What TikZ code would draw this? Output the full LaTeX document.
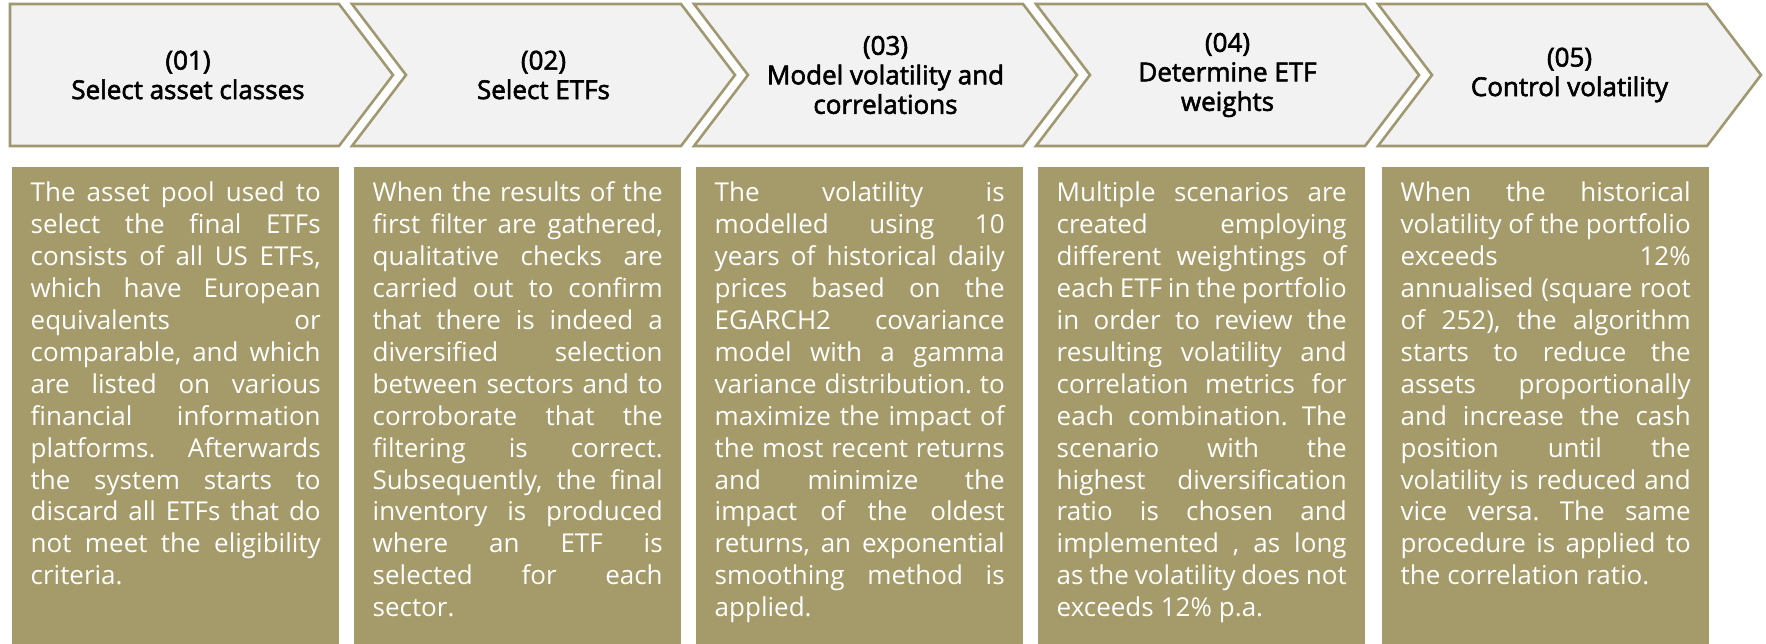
\documentclass[tikz,border=0pt]{standalone}
\usepackage{fontspec}
\setmainfont{Open Sans}
\newfontfamily\headfont[FakeBold=2.2]{Open Sans}
\definecolor{boxolive}{HTML}{A49A6A}
\definecolor{chevline}{HTML}{A09870}
\definecolor{chevfill}{HTML}{F2F2F2}
\newlength\tw \setlength\tw{290pt}
\newcommand\JL[1]{\hbox to \tw{#1}}
\newcommand\LL[1]{\hbox to \tw{#1\hfil}}
\newcommand\bodytext[1]{\vtop{\frenchspacing\fontsize{26}{31.9}\selectfont\spaceskip=0.27em plus 4em minus 0.1em\relax\baselineskip=31.9pt #1}}
\tikzset{
  chev/.style={draw=chevline, fill=chevfill, line width=2.6pt, line join=miter},
  panel/.style={fill=boxolive},
  head/.style={font=\headfont\fontsize{26}{29.5}\selectfont, text=black, align=center, inner sep=0pt},
  body/.style={text=white, inner sep=0pt, anchor=base west}
}
\begin{document}
\begin{tikzpicture}[x=1pt,y=-1pt]
\useasboundingbox (0,0) rectangle (1766,644);
% chevrons
\draw[chev] (10,4) -- (339,4) -- (393,75) -- (339,146) -- (10,146) -- cycle;
\draw[chev] (352,4) -- (681,4) -- (735,75) -- (681,146) -- (352,146) -- (406,75) -- cycle;
\draw[chev] (694,4) -- (1023,4) -- (1077,75) -- (1023,146) -- (694,146) -- (748,75) -- cycle;
\draw[chev] (1036,4) -- (1365,4) -- (1419,75) -- (1365,146) -- (1036,146) -- (1090,75) -- cycle;
\draw[chev] (1378,4) -- (1707,4) -- (1761,75) -- (1707,146) -- (1378,146) -- (1432,75) -- cycle;
% headings
\node[head] (h1) at (188,75) {(01)\\Select asset classes};
\node[head] (h2) at (543.5,75) {(02)\\Select ETFs};
\node[head] (h3) at (885.5,75) {(03)\\Model volatility and\\correlations};
\node[head] (h4) at (1227.5,75) {(04)\\Determine ETF\\weights};
\node[head] (h5) at (1569.5,75) {(05)\\Control volatility};
% panels
\fill[panel] (12,167) rectangle (339,644);
\fill[panel] (354,167) rectangle (681,644);
\fill[panel] (696,167) rectangle (1023,644);
\fill[panel] (1038,167) rectangle (1365,644);
\fill[panel] (1382,167) rectangle (1709,644);
% body texts
\node[body] (b1) at (30.5,202) {\bodytext{%
\JL{The asset pool used to}
\JL{select the final ETFs}
\JL{consists of all US ETFs,}
\JL{which have European}
\JL{equivalents or}
\JL{comparable, and which}
\JL{are listed on various}
\JL{financial information}
\JL{platforms. Afterwards}
\JL{the system starts to}
\JL{discard all ETFs that do}
\JL{not meet the eligibility}
\LL{criteria.}}};
\node[body] (b2) at (372.5,202) {\bodytext{%
\JL{When the results of the}
\JL{first filter are gathered,}
\JL{qualitative checks are}
\JL{carried out to confirm}
\JL{that there is indeed a}
\JL{diversified selection}
\JL{between sectors and to}
\JL{corroborate that the}
\JL{filtering is correct.}
\JL{Subsequently, the final}
\JL{inventory is produced}
\JL{where an ETF is}
\JL{selected for each}
\LL{sector.}}};
\node[body] (b3) at (714.5,202) {\bodytext{%
\JL{The volatility is}
\JL{modelled using 10}
\JL{years of historical daily}
\JL{prices based on the}
\JL{EGARCH2 covariance}
\JL{model with a gamma}
\JL{variance distribution. to}
\JL{maximize the impact of}
\JL{the most recent returns}
\JL{and minimize the}
\JL{impact of the oldest}
\JL{returns, an exponential}
\JL{smoothing method is}
\LL{applied.}}};
\node[body] (b4) at (1056.5,202) {\bodytext{%
\JL{Multiple scenarios are}
\JL{created employing}
\JL{different weightings of}
\JL{each ETF in the portfolio}
\JL{in order to review the}
\JL{resulting volatility and}
\JL{correlation metrics for}
\JL{each combination. The}
\JL{scenario with the}
\JL{highest diversification}
\JL{ratio is chosen and}
\JL{implemented , as long}
\JL{as the volatility does not}
\LL{exceeds 12\% p.a.}}};
\node[body] (b5) at (1400.5,202) {\bodytext{%
\JL{When the historical}
\JL{volatility of the portfolio}
\JL{exceeds 12\%}
\JL{annualised (square root}
\JL{of 252), the algorithm}
\JL{starts to reduce the}
\JL{assets proportionally}
\JL{and increase the cash}
\JL{position until the}
\JL{volatility is reduced and}
\JL{vice versa. The same}
\JL{procedure is applied to}
\LL{the correlation ratio.}}};
\end{tikzpicture}
\end{document}
